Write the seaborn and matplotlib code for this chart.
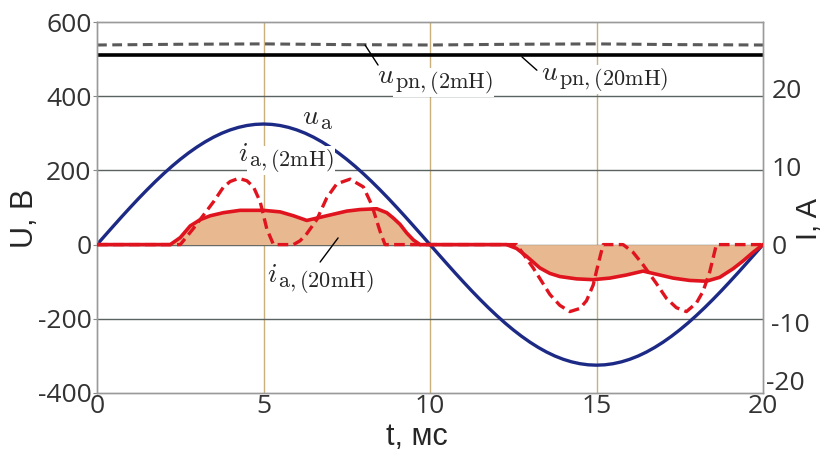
import numpy as np
import pandas as pd
import matplotlib
matplotlib.use("Agg")
import matplotlib.pyplot as plt
import seaborn as sns

# ---------------- data ----------------
t_u = [0, 0.25, 0.5, 0.75, 1, 1.25, 1.5, 1.75, 2, 2.25, 2.5, 2.75, 3, 3.25, 3.5, 3.75,
       4, 4.25, 4.5, 4.75, 5, 5.25, 5.5, 5.75, 6, 6.25, 6.5, 6.75, 7, 7.25, 7.5, 7.75,
       8, 8.25, 8.5, 8.75, 9, 9.25, 9.5, 9.75, 10, 10.25, 10.5, 10.75, 11, 11.25, 11.5,
       11.75, 12, 12.25, 12.5, 12.75, 13, 13.25, 13.5, 13.75, 14, 14.25, 14.5, 14.75,
       15, 15.25, 15.5, 15.75, 16, 16.25, 16.5, 16.75, 17, 17.25, 17.5, 17.75, 18,
       18.25, 18.5, 18.75, 19, 19.25, 19.5, 19.75, 20]
u_a = [0, 25.5, 50.8, 75.9, 100.4, 124.4, 147.5, 169.8, 191.0, 211.1, 229.8, 247.1,
       262.9, 277.1, 289.6, 300.3, 309.1, 316.0, 321.0, 324.0, 325,
       324.0, 321.0, 316.0, 309.1, 300.3, 289.6, 277.1, 262.9, 247.1, 229.8, 211.1,
       191.0, 169.8, 147.5, 124.4, 100.4, 75.9, 50.8, 25.5,
       0, -25.5, -50.8, -75.9, -100.4, -124.4, -147.5, -169.8, -191.0, -211.1, -229.8,
       -247.1, -262.9, -277.1, -289.6, -300.3, -309.1, -316.0, -321.0, -324.0, -325,
       -324.0, -321.0, -316.0, -309.1, -300.3, -289.6, -277.1, -262.9, -247.1, -229.8,
       -211.1, -191.0, -169.8, -147.5, -124.4, -100.4, -75.9, -50.8, -25.5, 0]

t_dc = [0, 2.5, 5, 7.5, 10, 12.5, 15, 17.5, 20]
u_pn_20mH = [510, 510, 510, 510, 510, 510, 510, 510, 510]
u_pn_2mH = [538, 540, 541, 539, 538, 540, 541, 539, 538]

t_i20 = [0, 2.2, 2.5, 2.8, 3.1, 3.4, 3.8, 4.3, 5.0, 5.5, 5.9, 6.3, 6.7, 7.1, 7.5, 7.9,
         8.4, 8.7, 8.9, 9.1, 9.3, 9.5, 9.7, 10, 12.3, 12.6, 12.9, 13.3, 13.6, 13.9, 14.4,
         14.9, 15.4, 15.9, 16.4, 16.8, 17.3, 17.8, 18.3, 18.7, 19.1, 19.4, 19.7, 20]
i_20mH = [0, 0, 0.9, 2.4, 3.2, 3.7, 4.1, 4.4, 4.4, 4.2, 3.7, 3.1, 3.5, 3.9, 4.3, 4.5,
          4.6, 4.1, 3.4, 2.6, 1.5, 0.6, 0, 0, 0, -0.5, -1.5, -3.0, -3.7, -4.1, -4.4,
          -4.5, -4.3, -3.9, -3.4, -3.8, -4.3, -4.6, -4.7, -4.2, -3.1, -2.1, -1.0, 0]

t_i2 = [0, 2.5, 2.9, 3.2, 3.5, 3.8, 4.0, 4.25, 4.5, 4.7, 4.9, 5.1, 5.3, 5.9, 6.1, 6.3,
        6.6, 6.9, 7.2, 7.6, 8.0, 8.25, 8.5, 8.65, 10, 12.6, 13.1, 13.6, 13.9, 14.2, 14.5,
        14.7, 14.9, 15.05, 15.2, 15.8, 16.1, 16.4, 16.8, 17.1, 17.4, 17.7, 18.0, 18.2,
        18.4, 18.6, 20]
i_2mH = [0, 0, 2.1, 3.8, 5.5, 7.4, 8.1, 8.5, 8.2, 7.4, 5.5, 2.0, 0, 0, 0.5, 1.4,
         3.2, 6.0, 7.8, 8.4, 7.4, 5.1, 1.7, 0, 0, 0, -3.0, -6.4, -7.8, -8.6, -8.2,
         -7.2, -5.2, -2.5, 0, 0, -1.0, -2.6, -5.0, -6.9, -8.1, -8.6, -7.5, -6.0,
         -3.5, 0, 0]

x_ticks = [0, 5, 10, 15, 20]
u_ticks = [-400, -200, 0, 200, 400, 600]
i_ticks = [-10, 0, 10, 20]

# ---------------- style ----------------
sns.set_style("white")
plt.rcParams['font.family'] = ['Open Sans', 'DejaVu Sans']
plt.rcParams['mathtext.fontset'] = 'cm'

fig = plt.figure(figsize=(8.26, 4.63), dpi=100)
ax = fig.add_axes([97/826, 1-393/463, (763-97)/826, (393-22)/463])
ax2 = ax.twinx()

U_MIN, U_MAX = -400, 600
K = 21.0  # V per A on the shared grid
ax.set_xlim(0, 20)
ax.set_ylim(U_MIN, U_MAX)
ax2.set_ylim(U_MIN / K, U_MAX / K)

# grid
for xv in [5, 10, 15]:
    ax.axvline(xv, color='#c9b07c', lw=1.0, zorder=0)
for yv in [-200, 0, 200, 400]:
    ax.axhline(yv, color='#5a6262', lw=1.0, zorder=0)

# voltages on left axis
sns.lineplot(x=t_u, y=u_a, ax=ax, color='#1c2a86', lw=2.4, zorder=2,
             estimator=None, sort=False)
sns.lineplot(x=t_dc, y=u_pn_20mH, ax=ax, color='black', lw=2.6, zorder=2,
             estimator=None, sort=False)
sns.lineplot(x=t_dc, y=u_pn_2mH, ax=ax, color='#5a5a5a', lw=2.2,
             linestyle=(0, (3.2, 1.8)), zorder=2, estimator=None, sort=False)

# currents on right axis
df20 = pd.DataFrame({'t': t_i20, 'i': i_20mH})
df2 = pd.DataFrame({'t': t_i2, 'i': i_2mH})
ax2.fill_between(t_i20, i_20mH, 0, color='#e8b890', lw=0, zorder=1)
sns.lineplot(data=df2, x='t', y='i', ax=ax2, color='#e0141e', lw=2.4,
             linestyle=(0, (3.2, 1.6)), zorder=3, estimator=None, sort=False)
sns.lineplot(data=df20, x='t', y='i', ax=ax2, color='#e0141e', lw=2.6,
             zorder=4, estimator=None, sort=False)

ax.set_zorder(ax2.get_zorder() - 1)
ax.patch.set_visible(False)
ax2.patch.set_visible(False)

# ---------------- labels ----------------
MAIN_FS = 20
SUB_FS = 16
bbox = dict(facecolor='white', edgecolor='none', pad=1.0)


def px_to_data(x_px, y_px):
    """pixel (from top-left of the 826x463 figure) -> ax2 data coords"""
    return ax2.transData.inverted().transform((x_px, 463 - y_px))


labels = [
    # main, subscript, left px, baseline px, white box
    ('u', 'pn,(2mH)', 377, 83, True),
    ('u', 'pn,(20mH)', 541, 80, True),
    ('u', 'a', 302, 124, False),
    ('i', 'a,(2mH)', 238, 161, True),
    ('i', 'a,(20mH)', 267, 282, False),
]
fig.canvas.draw()
renderer = fig.canvas.get_renderer()
for main, sub, xp, yp, boxed in labels:
    xd, yd = px_to_data(xp, yp)
    tm = ax2.text(xd, yd, '$' + main + '$', fontsize=MAIN_FS, ha='left', va='baseline',
                  zorder=6, bbox=bbox if boxed else None)
    bb = tm.get_window_extent(renderer=renderer)
    sd = ax2.transData.inverted().transform((bb.x1 + 0.5, 463 - (yp + 5)))
    ax2.text(sd[0], sd[1], r'$\mathrm{' + sub + '}$', fontsize=SUB_FS, ha='left',
             va='baseline', zorder=6, bbox=bbox if boxed else None)

# leader lines (in voltage units converted to the current axis)
ax2.plot([8.05, 8.44], [538 / K, 484 / K], color='black', lw=1.0, zorder=7)
ax2.plot([12.76, 13.21], [506 / K, 470 / K], color='black', lw=1.0, zorder=7)
ax2.plot([7.24, 6.70], [18 / K, -47 / K], color='black', lw=1.0, zorder=7)

# ---------------- ticks ----------------
tick_fs = 19
ax.set_xticks(x_ticks)
ax.set_yticks(u_ticks)
ax2.set_yticks(i_ticks)
ax.set_xticklabels([str(v) for v in x_ticks])
ax.set_yticklabels([str(v) for v in u_ticks])
ax2.set_yticklabels([str(v) for v in i_ticks])
ax.tick_params(axis='both', labelsize=tick_fs, colors='#333333', length=3, width=0.8,
               direction='out', pad=1)
ax.tick_params(axis='y', color='#888888')
ax.tick_params(axis='x', length=0, pad=1)
ax2.tick_params(axis='y', labelsize=tick_fs, colors='#333333', length=0, pad=6)
ax2.annotate('-20', xy=(1.0, 0.0), xycoords='axes fraction', xytext=(3, 10),
             textcoords='offset pixels', fontsize=tick_fs, color='#333333',
             ha='left', va='center')

for a in (ax, ax2):
    for s in a.spines.values():
        s.set_color('#9a9a9a')
        s.set_linewidth(1.0)

lab_family = ['Liberation Sans', 'DejaVu Sans']
ax.set_xlabel('t, мс', fontsize=22, family=lab_family)
ax.set_ylabel('U, В', fontsize=22, family=lab_family)
ax2.set_ylabel('I, A', fontsize=21, family=lab_family)
ax.xaxis.set_label_coords((417 - 97) / 666, -(437 - 393) / 371)
ax.xaxis.label.set_va('center')
ax.yaxis.set_label_coords((25 - 97) / 666, 0.47)
ax.yaxis.label.set_va('center')
ax2.yaxis.set_label_coords((809 - 97) / 666, 0.47)
ax2.yaxis.label.set_va('center')

fig.savefig('out.png', dpi=100)
